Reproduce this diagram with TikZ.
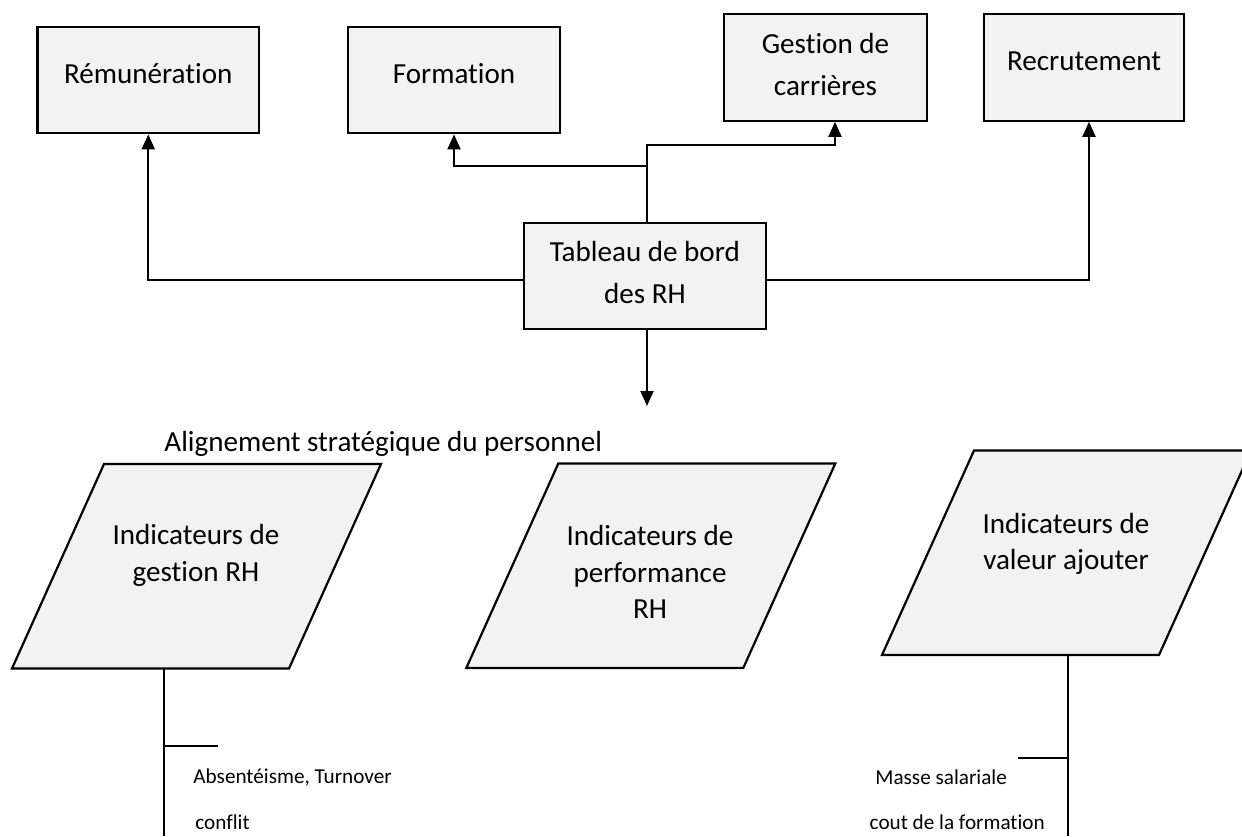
\documentclass[tikz,border=0pt]{standalone}
\usepackage{fontspec}
\setmainfont{Carlito}[Ligatures=NoCommon]
\usetikzlibrary{arrows.meta,calc}

\begin{document}
\begin{tikzpicture}[x=0.5pt,y=-0.5pt,
  box/.style={draw=black,line width=1.1pt,fill=black!5,align=center,inner sep=0pt,
    font=\fontsize{14.55}{20.8}\selectfont},
  para/.style={draw=black,line width=1.1pt,fill=black!5,line join=miter},
  lbl/.style={align=center,inner sep=0pt,font=\fontsize{14.55}{18.35}\selectfont},
  small/.style={inner sep=0pt,anchor=west,font=\fontsize{10.6}{12}\selectfont},
  link/.style={line width=1pt},
  arr/.style={line width=1pt,-{Triangle[width=6.5pt,length=7.5pt]}}]

\clip (0,0) rectangle (1242,836);

% top row of HR functions
\node[box,minimum width=110.75pt,minimum height=53.3pt,text depth=6.5pt] (rem) at (148.25,80) {Rémunération};
\node[box,minimum width=106pt,minimum height=53.3pt,text depth=6.5pt] (form) at (454,80) {Formation};
\node[box,minimum width=101.5pt,minimum height=53.2pt,text depth=3.4pt] (gest) at (825.5,67.5) {Gestion de\\carrières};
\node[box,minimum width=100pt,minimum height=53.2pt,text depth=6.5pt] (recr) at (1084,67.5) {Recrutement};

% central dashboard
\node[box,minimum width=120.85pt,minimum height=53.3pt,text depth=3.4pt] (tab) at (644.85,276) {Tableau de bord\\des RH};

% connectors from the dashboard
\coordinate (hl) at (0,280);
\coordinate (jg) at (646.7,145);
\coordinate (jf) at (646.7,165.7);
\coordinate (dn) at (647,406);
\draw[arr] (tab.west |- hl) -| (rem.south);
\draw[arr] (tab.east |- hl) -| ($(recr.south)+(5,0)$);
\draw[arr] (tab.north -| jg) -- (jg) -| ($(gest.south)+(9.5,0)$);
\draw[arr] (jf) -| (form.south);
\draw[arr] (tab.south -| dn) -- (dn);

\node[lbl,anchor=west] (align) at (164,444) {Alignement stratégique du personnel};

% indicator families
\draw[para] (104,464) -- ++(277,0) -- ++(-92,204.5) -- ++(-277,0) -- cycle;
\draw[para] (558.3,463.5) -- ++(277,0) -- ++(-92,204.5) -- ++(-277,0) -- cycle;
\draw[para] (974,450.5) -- ++(277,0) -- ++(-92,204.5) -- ++(-277,0) -- cycle;

\node[lbl] (ind1) at (196,555.5) {Indicateurs de\\gestion RH};
\node[lbl] (ind2) at (650,572) {Indicateurs de\\performance\\RH};
\node[lbl] (ind3) at (1066,544) {Indicateurs de\\valeur ajouter};

% detail lines under the first and third families
\coordinate (p1b) at (164.4,668.3);
\coordinate (p1e) at (164.4,836);
\coordinate (t1) at (164.4,746);
\coordinate (t1e) at (218,746);
\draw[link] (p1b) -- (p1e);
\draw[link] (t1) -- (t1e);

\coordinate (p3b) at (1068,654.5);
\coordinate (p3e) at (1068,836);
\coordinate (t3) at (1068,758);
\coordinate (t3e) at (1018,758);
\draw[link] (p3b) -- (p3e);
\draw[link] (t3) -- (t3e);

\node[small] (abs) at (193,777) {Absentéisme, Turnover};
\node[small] (conf) at (195,822) {conflit};
\node[small] (masse) at (875,777) {Masse salariale};
\node[small] (cout) at (869.3,822) {cout de la formation};
\end{tikzpicture}
\end{document}
